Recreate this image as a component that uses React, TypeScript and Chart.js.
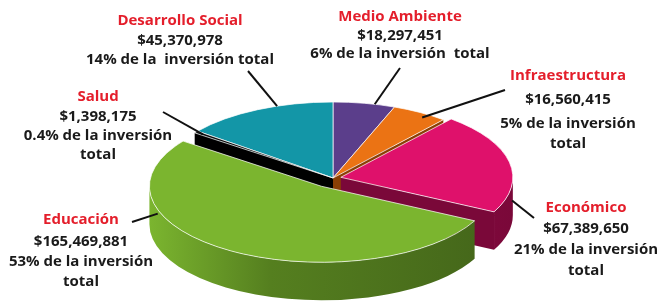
import React, { useEffect, useRef } from 'react';
import { Chart, registerables } from 'chart.js';

Chart.register(...registerables);

// ---------- data ----------
const categories = ['Medio Ambiente', 'Infraestructura', 'Económico', 'Educación', 'Salud', 'Desarrollo Social'];
const amounts = [18297451, 16560415, 67389650, 165469881, 1398175, 45370978];
const shareLines = [
  ['6% de la inversión  total'],
  ['5% de la inversión', 'total'],
  ['21% de la inversión', 'total'],
  ['53% de la inversión', 'total'],
  ['0.4% de la inversión', 'total'],
  ['14% de la  inversión total'],
];

// ---------- styles ----------
const TOP_COLORS = ['#5B3E8B', '#EB7314', '#DF116B', '#7BB52F', '#0B0B0B', '#1396A7'];
const WALL_COLORS = ['#3b2462', '#a24c08', '#960b49', '#557f1f', '#000000', '#0a6570'];
const FACE_COLORS = ['#2e1b4e', '#8a3f05', '#7a0839', '#44661a', '#000000', '#08525b'];
const EXPLODE = [0, 0, 8, 22, 0, 0];
const K = 76 / 172; // vertical squash
const DEPTH = 38;

// label layout: text center x, line y's, leader outer end, leader anchor on slice
const LAYOUT = [
  { x: 400, ys: [17, 36, 54], ex: 400, ey: 68, t: 0.67, r: 1, down: 0 },
  { x: 568, ys: [76, 100, 124, 144], ex: 505, ey: 90, t: 0.64, r: 0.95, down: 0 },
  { x: 586, ys: [208, 229, 250, 271], ex: 534, ey: 218, t: 0.72, r: 1, down: 16 },
  { x: 81, ys: [220, 242, 262, 282], ex: 132, ey: 222, t: 0.713, r: 1, down: 4 },
  { x: 98, ys: [97, 117, 136, 155], ex: 163, ey: 112, t: 0.5, r: 0.95, down: 0 },
  { x: 180, ys: [21, 41, 60], ex: 248, ey: 71, t: 0.635, r: 1, down: 0 },
];

function sliceCenter(arc: any, i: number) {
  const mid = (arc.startAngle + arc.endAngle) / 2;
  const e = EXPLODE[i] || 0;
  return { cx: arc.x + Math.cos(mid) * e, cy: arc.y + Math.sin(mid) * e * K };
}

const pie3d = {
  id: 'pie3d',
  beforeDatasetsDraw(chart: any) {
    const ctx = chart.ctx as CanvasRenderingContext2D;
    const meta = chart.getDatasetMeta(0);
    const arcs = meta.data as any[];
    const order = arcs.map((a, i) => i).sort((a, b) => {
      const ma = (arcs[a].startAngle + arcs[a].endAngle) / 2;
      const mb = (arcs[b].startAngle + arcs[b].endAngle) / 2;
      return Math.sin(ma) - Math.sin(mb);
    });
    order.forEach((i) => {
      const arc = arcs[i];
      const { cx, cy } = sliceCenter(arc, i);
      const R = arc.outerRadius;
      const ry = R * K;
      const a0 = arc.startAngle;
      const a1 = arc.endAngle;
      const pt = (a: number) => [cx + R * Math.cos(a), cy + ry * Math.sin(a)];
      const faces: number[] = [];
      if (-Math.cos(a0) > 0.05) faces.push(a0);
      if (Math.cos(a1) > 0.05) faces.push(a1);
      faces.forEach((a) => {
        const [px, py] = pt(a);
        ctx.beginPath();
        ctx.moveTo(cx, cy);
        ctx.lineTo(px, py);
        ctx.lineTo(px, py + DEPTH);
        ctx.lineTo(cx, cy + DEPTH);
        ctx.closePath();
        ctx.fillStyle = FACE_COLORS[i];
        ctx.fill();
      });
      const s = Math.max(a0, 0);
      const e = Math.min(a1, Math.PI);
      if (e > s) {
        const grad = ctx.createLinearGradient(cx - R, 0, cx + R, 0);
        grad.addColorStop(0, TOP_COLORS[i]);
        grad.addColorStop(0.35, WALL_COLORS[i]);
        grad.addColorStop(1, FACE_COLORS[i]);
        ctx.beginPath();
        ctx.ellipse(cx, cy, R, ry, 0, s, e, false);
        ctx.ellipse(cx, cy + DEPTH, R, ry, 0, e, s, true);
        ctx.closePath();
        ctx.fillStyle = grad;
        ctx.fill();
      }
      ctx.save();
      ctx.translate(cx, cy);
      ctx.scale(1, K);
      ctx.translate(-arc.x, -arc.y);
      arc.draw(ctx);
      ctx.restore();
    });
    return false;
  },
  afterDraw(chart: any) {
    const ctx = chart.ctx as CanvasRenderingContext2D;
    const meta = chart.getDatasetMeta(0);
    const arcs = meta.data as any[];
    ctx.save();
    arcs.forEach((arc, i) => {
      const L = LAYOUT[i];
      const { cx, cy } = sliceCenter(arc, i);
      const a = arc.startAngle + L.t * (arc.endAngle - arc.startAngle);
      const R = arc.outerRadius * L.r;
      const sx = cx + R * Math.cos(a);
      const sy = cy + R * K * Math.sin(a) + L.down;
      ctx.beginPath();
      ctx.moveTo(L.ex, L.ey);
      ctx.lineTo(sx, sy);
      ctx.strokeStyle = '#111';
      ctx.lineWidth = 2;
      ctx.stroke();

      const lines = [categories[i], '$' + amounts[i].toLocaleString('en-US'), ...shareLines[i]];
      ctx.font = 'bold 15px "Open Sans"';
      ctx.textAlign = 'center';
      ctx.textBaseline = 'middle';
      lines.forEach((t, j) => {
        ctx.fillStyle = j === 0 ? '#E41E2B' : '#1a1a1a';
        ctx.fillText(t, L.x, L.ys[j]);
      });
    });
    ctx.restore();
  },
};

export default function App() {
  const ref = useRef<HTMLCanvasElement>(null);
  useEffect(() => {
    const canvas = ref.current;
    if (!canvas) return;
    const chart = new Chart(canvas, {
      type: 'pie',
      data: {
        labels: categories,
        datasets: [
          {
            data: amounts,
            backgroundColor: TOP_COLORS,
            borderColor: '#ffffff',
            borderWidth: 1,
          },
        ],
      },
      options: {
        responsive: false,
        animation: false,
        events: [],
        radius: 172,
        layout: { padding: { left: 2, top: 52, right: 0, bottom: 0 } },
        plugins: { legend: { display: false }, tooltip: { enabled: false } },
      } as any,
      plugins: [pie3d],
    });
    return () => chart.destroy();
  }, []);
  return (
    <div style={{ position: 'absolute', left: 0, top: 0, width: 664, height: 304, background: '#fff' }}>
      <canvas ref={ref} width={664} height={304} style={{ width: 664, height: 304, display: 'block' }} />
    </div>
  );
}
